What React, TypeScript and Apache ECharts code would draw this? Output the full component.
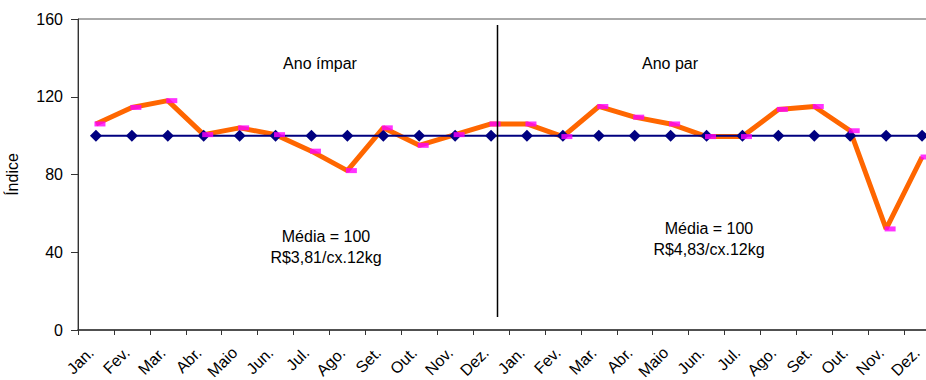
import React, { useEffect, useRef } from "react";
import * as echarts from "echarts";

// Monthly price index, two consecutive years (odd year, then even year)
const months = [
  "Jan.", "Fev.", "Mar.", "Abr.", "Maio", "Jun.", "Jul.", "Ago.", "Set.", "Out.", "Nov.", "Dez.",
  "Jan.", "Fev.", "Mar.", "Abr.", "Maio", "Jun.", "Jul.", "Ago.", "Set.", "Out.", "Nov.", "Dez.",
];

const indexValues = [
  106, 114.5, 118, 100.5, 104, 100.5, 92, 82, 104, 95, 100.5, 106,
  106, 99.5, 115, 109.5, 106, 99.5, 99.5, 113.5, 115, 102.5, 52, 89,
];

const averageValues = [
  100, 100, 100, 100, 100, 100, 100, 100, 100, 100, 100, 100,
  100, 100, 100, 100, 100, 100, 100, 100, 100, 100, 100, 100,
];

const yTicks = { min: 0, max: 160, interval: 40 };

const FONT = "'Liberation Sans', Arial, sans-serif";

export default function App() {
  const ref = useRef<HTMLDivElement>(null);

  useEffect(() => {
    if (!ref.current) return;
    const chart = echarts.init(ref.current, null, { renderer: "svg" });
    chart.setOption({
      animation: false,
      backgroundColor: "#ffffff",
      grid: {
        left: 78,
        top: 19,
        right: 5,
        bottom: 50,
        outerBoundsMode: "none",
        containLabel: false,
        show: true,
        borderColor: "#555555",
        borderWidth: 1,
        backgroundColor: "transparent",
      },
      xAxis: {
        type: "category",
        data: months,
        boundaryGap: true,
        axisLine: { lineStyle: { color: "#333333", width: 1.5 } },
        axisTick: { show: true, length: 5, lineStyle: { color: "#333333" } },
        axisLabel: {
          interval: 0,
          rotate: 45,
          margin: 15,
          padding: [0, 7, 0, 0],
          fontSize: 16,
          fontFamily: FONT,
          color: "#000000",
        },
        splitLine: { show: false },
      },
      yAxis: {
        type: "value",
        min: yTicks.min,
        max: yTicks.max,
        interval: yTicks.interval,
        name: "Índice",
        nameLocation: "middle",
        nameGap: 58,
        nameRotate: 90,
        nameTextStyle: { fontSize: 16, fontFamily: FONT, color: "#000000" },
        axisLine: { show: true, lineStyle: { color: "#333333", width: 1 } },
        axisTick: { show: true, length: 7, lineStyle: { color: "#333333" } },
        axisLabel: { margin: 15, fontSize: 16, fontFamily: FONT, color: "#000000" },
        splitLine: { show: false },
      },
      series: [
        {
          name: "Índice",
          type: "line",
          data: indexValues,
          symbol: "none",
          lineStyle: { color: "#ff6600", width: 5 },
          z: 2,
        },
        {
          name: "Média",
          type: "line",
          data: averageValues,
          symbol: "diamond",
          symbolSize: 12,
          itemStyle: { color: "#000080" },
          lineStyle: { color: "#000080", width: 2 },
          z: 3,
        },
        {
          name: "Índice marcador",
          type: "scatter",
          data: indexValues,
          symbol: "rect",
          symbolSize: [11, 5],
          symbolOffset: [4, 0],
          itemStyle: { color: "#ff00ff" },
          z: 4,
        },
      ],
      graphic: [
        {
          type: "line",
          shape: { x1: 497.5, y1: 25, x2: 497.5, y2: 317 },
          style: { stroke: "#000000", lineWidth: 1.5 },
          z: 10,
        },
        {
          type: "text",
          x: 320,
          y: 63,
          style: { text: "Ano ímpar", fontSize: 16, fontFamily: FONT, fill: "#000000", textAlign: "center", textVerticalAlign: "middle" },
        },
        {
          type: "text",
          x: 670,
          y: 63,
          style: { text: "Ano par", fontSize: 16, fontFamily: FONT, fill: "#000000", textAlign: "center", textVerticalAlign: "middle" },
        },
        {
          type: "text",
          x: 326,
          y: 236,
          style: { text: "Média = 100", fontSize: 16, fontFamily: FONT, fill: "#000000", textAlign: "center", textVerticalAlign: "middle" },
        },
        {
          type: "text",
          x: 326,
          y: 257,
          style: { text: "R$3,81/cx.12kg", fontSize: 16, fontFamily: FONT, fill: "#000000", textAlign: "center", textVerticalAlign: "middle" },
        },
        {
          type: "text",
          x: 709,
          y: 228,
          style: { text: "Média = 100", fontSize: 16, fontFamily: FONT, fill: "#000000", textAlign: "center", textVerticalAlign: "middle" },
        },
        {
          type: "text",
          x: 709,
          y: 249,
          style: { text: "R$4,83/cx.12kg", fontSize: 16, fontFamily: FONT, fill: "#000000", textAlign: "center", textVerticalAlign: "middle" },
        },
      ],
    });
    return () => chart.dispose();
  }, []);

  return (
    <div
      style={{
        position: "fixed",
        left: 0,
        top: 0,
        width: 926,
        height: 380,
        overflow: "hidden",
        background: "#ffffff",
      }}
    >
      <div ref={ref} style={{ width: 945, height: 380 }} />
    </div>
  );
}
